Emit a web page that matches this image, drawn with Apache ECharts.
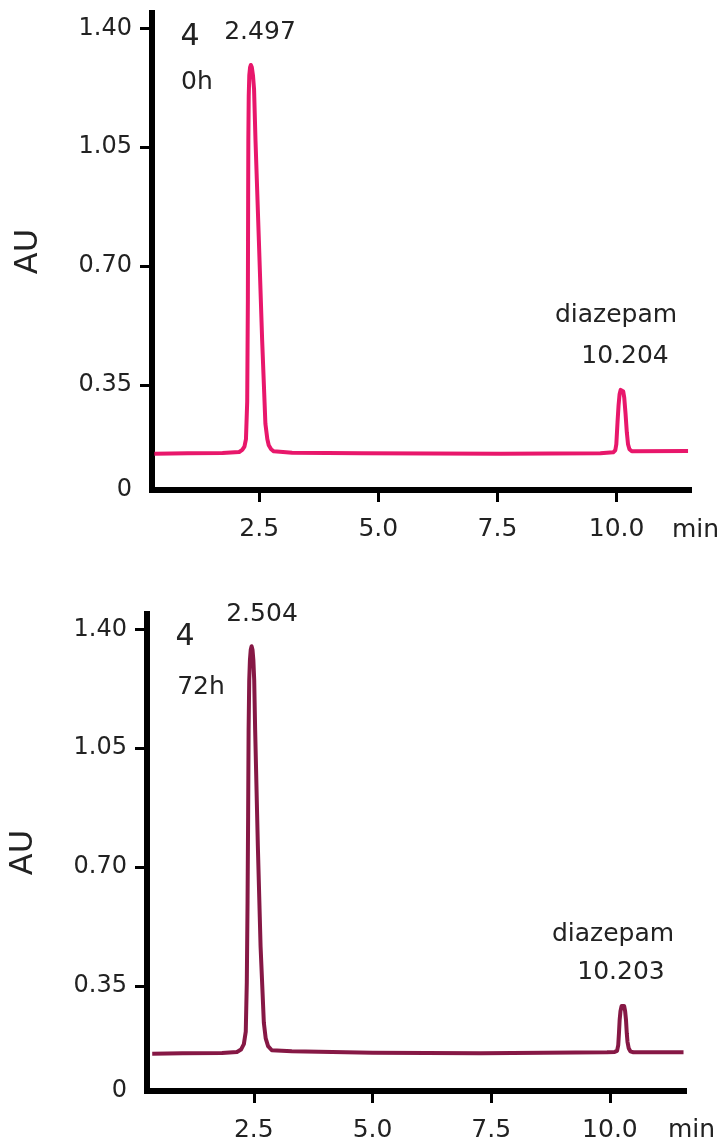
<!DOCTYPE html>
<html>
<head>
<meta charset="utf-8">
<script src="https://cdn.jsdelivr.net/npm/echarts@6/dist/echarts.min.js"></script>
<style>
  html, body { margin: 0; padding: 0; background: #fff; }
  #chart { width: 721px; height: 1148px; }
</style>
</head>
<body>
<div id="chart"></div>
<script>
// tick labels
const yTicks = [0.35, 0.70, 1.05, 1.40]
const xTicks = [2.5, 5.0, 7.5, 10.0]

// sample 4, 0h (min / AU)
const time0h = [0.3, 1.0, 1.73, 2.08, 2.144, 2.19, 2.222, 2.248, 2.262, 2.268, 2.272, 2.28, 2.292, 2.308, 2.325, 2.345, 2.37, 2.392, 2.422, 2.493, 2.562, 2.63, 2.67, 2.70, 2.75, 2.806, 3.19, 4.65, 7.57, 9.66, 9.93, 9.973, 9.995, 10.02, 10.042, 10.063, 10.085, 10.113, 10.14, 10.161, 10.188, 10.215, 10.24, 10.27, 10.32, 11.5]
const au0h   = [0.147, 0.148, 0.149, 0.152, 0.158, 0.168, 0.19, 0.30, 0.60, 0.90, 1.07, 1.20, 1.262, 1.285, 1.292, 1.285, 1.26, 1.22, 1.07, 0.775, 0.48, 0.235, 0.19, 0.172, 0.160, 0.154, 0.150, 0.148, 0.147, 0.148, 0.151, 0.157, 0.175, 0.24, 0.29, 0.322, 0.335, 0.337, 0.33, 0.312, 0.265, 0.21, 0.175, 0.160, 0.154, 0.155]

// sample 4, 72h
const time72h = [0.36, 1.0, 1.83, 2.145, 2.23, 2.29, 2.33, 2.352, 2.368, 2.38, 2.39, 2.403, 2.418, 2.435, 2.453, 2.472, 2.49, 2.508, 2.528, 2.585, 2.642, 2.711, 2.75, 2.80, 2.878, 3.30, 5.0, 7.28, 9.94, 10.10, 10.15, 10.175, 10.19, 10.205, 10.222, 10.245, 10.272, 10.30, 10.32, 10.338, 10.355, 10.37, 10.395, 10.43, 10.495, 11.55]
const au72h   = [0.150, 0.151, 0.152, 0.155, 0.162, 0.178, 0.215, 0.36, 0.60, 0.85, 1.103, 1.25, 1.31, 1.34, 1.35, 1.34, 1.31, 1.25, 1.103, 0.76, 0.466, 0.241, 0.195, 0.172, 0.160, 0.157, 0.153, 0.151, 0.154, 0.155, 0.158, 0.175, 0.21, 0.25, 0.275, 0.29, 0.294, 0.29, 0.275, 0.25, 0.21, 0.185, 0.166, 0.157, 0.154, 0.154]

const zip = (xs, ys) => xs.map((x, i) => [x, ys[i]])

const FONT = 'DejaVu Sans'
const TXT = '#222'

const chart = echarts.init(document.getElementById('chart'))

const yAxisCfg = (gridIndex) => ({
  type: 'value',
  gridIndex,
  min: 0.04,
  max: 1.445,
  name: 'AU',
  nameLocation: 'middle',
  nameGap: 107,
  nameRotate: 90,
  nameTextStyle: { fontFamily: FONT, fontSize: 32, color: TXT },
  axisLine: { show: true, onZero: false, lineStyle: { color: '#000', width: 6, cap: 'square' } },
  axisTick: { show: true, length: 12, customValues: yTicks, lineStyle: { color: '#000', width: 3 } },
  axisLabel: {
    customValues: [0.04].concat(yTicks),
    margin: 20,
    fontFamily: FONT,
    fontSize: 24,
    color: TXT,
    formatter: (v) => (v < 0.1 ? '0' : v.toFixed(2))
  },
  splitLine: { show: false }
})

const xAxisCfg = (gridIndex, max) => ({
  type: 'value',
  gridIndex,
  min: 0.25,
  max,
  axisLine: { show: true, onZero: false, lineStyle: { color: '#000', width: 6, cap: 'square' } },
  axisTick: { show: true, length: 12, customValues: xTicks, lineStyle: { color: '#000', width: 3 } },
  axisLabel: {
    customValues: xTicks,
    margin: 27,
    fontFamily: FONT,
    fontSize: 25,
    color: TXT,
    formatter: (v) => v.toFixed(1)
  },
  splitLine: { show: false }
})

const txt = (text, x, y, size, align) => ({
  type: 'text',
  x, y,
  style: {
    text,
    fontFamily: FONT,
    fontSize: size,
    fill: TXT,
    align: align || 'center',
    verticalAlign: 'middle'
  }
})

chart.setOption({
  animation: false,
  backgroundColor: '#fff',
  grid: [
    { left: 152, right: 32, top: 13, height: 477 },
    { left: 147, right: 37, top: 614, height: 477 }
  ],
  xAxis: [xAxisCfg(0, 11.52), xAxisCfg(1, 11.56)],
  yAxis: [yAxisCfg(0), yAxisCfg(1)],
  series: [
    {
      name: '0h',
      type: 'line',
      xAxisIndex: 0,
      yAxisIndex: 0,
      data: zip(time0h, au0h),
      showSymbol: false,
      lineStyle: { color: '#e8176b', width: 4, join: 'round' }
    },
    {
      name: '72h',
      type: 'line',
      xAxisIndex: 1,
      yAxisIndex: 1,
      data: zip(time72h, au72h),
      showSymbol: false,
      lineStyle: { color: '#861845', width: 4, join: 'round' }
    }
  ],
  graphic: [
    txt('4', 190, 37, 30),
    txt('2.497', 260, 32, 25),
    txt('0h', 197, 82, 25),
    txt('diazepam', 616, 315, 25),
    txt('10.204', 625, 356, 25),
    txt('min', 672, 530, 25, 'left'),
    txt('4', 185, 637, 30),
    txt('2.504', 262, 614, 25),
    txt('72h', 201, 687, 25),
    txt('diazepam', 613, 934, 25),
    txt('10.203', 621, 972, 25),
    txt('min', 668, 1130, 25, 'left')
  ]
})
</script>
</body>
</html>
